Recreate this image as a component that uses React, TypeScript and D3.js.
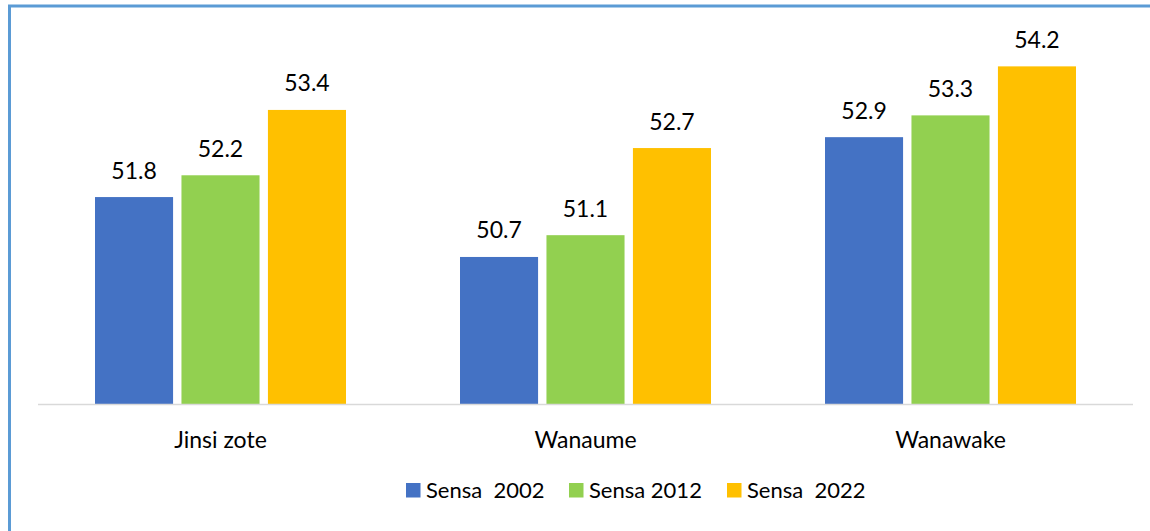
import React from "react";
import * as d3 from "d3";

const categories = ["Jinsi zote", "Wanaume", "Wanawake"];
const seriesNames = ["Sensa  2002", "Sensa 2012", "Sensa  2022"];
const sensa2002 = [51.8, 50.7, 52.9];
const sensa2012 = [52.2, 51.1, 53.3];
const sensa2022 = [53.4, 52.7, 54.2];
const seriesColors = ["#4472C4", "#92D050", "#FFC000"];
const yDomain: [number, number] = [48, 55];

const W = 1150;
const H = 531;
const FONT = "Lato, 'Open Sans', sans-serif";

export default function App() {
  const series = [sensa2002, sensa2012, sensa2022];
  const x = d3.scaleBand<string>().domain(categories).range([38, 1133]).padding(0);
  const y = d3.scaleLinear().domain(yDomain).range([404, 22.8]);
  const groupW = 251;
  const inner = d3
    .scaleBand<number>()
    .domain([0, 1, 2])
    .range([0, groupW])
    .paddingInner(0.097)
    .paddingOuter(0);

  const legendX = [406, 569, 727];

  return (
    <svg
      width={W}
      height={H}
      style={{ position: "absolute", left: 0, top: 0, background: "#fff" }}
      fontFamily={FONT}
    >
      <rect x={0} y={0} width={W} height={H} fill="#fff" />
      <rect x={9.5} y={6} width={W + 20} height={H + 20} fill="none" stroke="#5B9BD5" strokeWidth={3} />
      {categories.map((c, ci) => {
        const cx = (x(c) ?? 0) + x.bandwidth() / 2;
        const gx = cx - groupW / 2;
        return (
          <g key={c}>
            {series.map((s, si) => {
              const bx = gx + (inner(si) ?? 0);
              const by = y(s[ci]);
              return (
                <g key={si}>
                  <rect x={bx} y={by} width={inner.bandwidth()} height={y(yDomain[0]) - by} fill={seriesColors[si]} />
                  <text
                    x={bx + inner.bandwidth() / 2}
                    y={by - 18.5}
                    textAnchor="middle"
                    fontSize={23}
                    fill="#000"
                  >
                    {s[ci].toFixed(1)}
                  </text>
                </g>
              );
            })}
            <text x={cx} y={448} textAnchor="middle" fontSize={23} fill="#000">
              {c}
            </text>
          </g>
        );
      })}
      <line x1={38} x2={1133} y1={404.5} y2={404.5} stroke="#D9D9D9" strokeWidth={1.5} />
      {seriesNames.map((n, i) => (
        <g key={n}>
          <rect x={legendX[i]} y={483} width={14.5} height={14.5} fill={seriesColors[i]} />
          <text
            x={legendX[i] + 20}
            y={498}
            fontSize={22}
            fill="#000"
            style={{ whiteSpace: "pre" }}
          >
            {n}
          </text>
        </g>
      ))}
    </svg>
  );
}
